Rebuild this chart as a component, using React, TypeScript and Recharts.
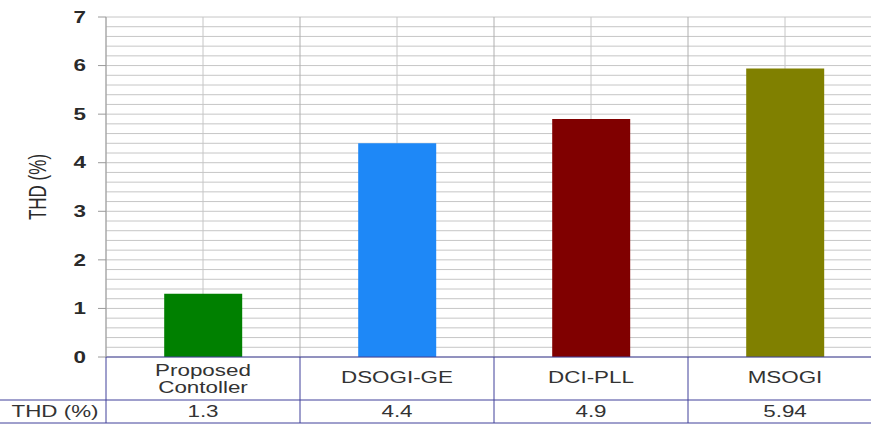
import { BarChart, Bar, XAxis, YAxis, CartesianGrid, Cell } from 'recharts';

const categories = ['Proposed\nContoller', 'DSOGI-GE', 'DCI-PLL', 'MSOGI'];
const thdValues = [1.3, 4.4, 4.9, 5.94];
const thdLabels = ['1.3', '4.4', '4.9', '5.94'];
const barColors = ['#008000', '#1e88f7', '#800000', '#808000'];
const yTicks = [0, 1, 2, 3, 4, 5, 6, 7];
// minor gridlines every 0.2
const minorTicks = Array.from({ length: 36 }, (_, i) => Math.round(i * 2) / 10);

const data = categories.map((name, i) => ({ name, thd: thdValues[i], label: thdLabels[i] }));

const SX = 1.4; // the source image is stretched horizontally
const NAVY = '#41419a';
const FONT = 'Arial, "Liberation Sans", sans-serif';

function YTick(props: any) {
  const { x, y, payload } = props;
  return (
    <text
      transform={`translate(${x},${y}) scale(${SX},1)`}
      textAnchor="end"
      dy="0.36em"
      fontSize={16}
      fontWeight="bold"
      fontFamily={FONT}
      fill="#2a2a2a"
    >
      {payload.value}
    </text>
  );
}

function YLabel(props: any) {
  const vb = props.viewBox;
  const cx = vb.x + 37;
  const cy = vb.y + vb.height / 2;
  return (
    <text
      transform={`translate(${cx},${cy}) scale(${SX},1) rotate(-90)`}
      textAnchor="middle"
      dy="0.36em"
      fontSize={17}
      fontFamily={FONT}
      fill="#2a2a2a"
    >
      THD (%)
    </text>
  );
}

// each x tick draws its column of the data table under the plot
function TableCell(props: any) {
  const { x, y, payload, width, visibleTicksCount } = props;
  const idx = payload.index ?? 0;
  const cw = width / visibleTicksCount;
  const left = x - cw / 2;
  const right = x + cw / 2;
  const row1 = 43;
  const row2 = 66;
  const lines = String(payload.value).split('\n');
  const txt = (tx: number, ty: number, s: string, key: string) => (
    <text
      key={key}
      transform={`translate(${tx},${ty}) scale(${SX},1)`}
      textAnchor="middle"
      fontSize={16}
      fontFamily={FONT}
      fill="#333"
    >
      {s}
    </text>
  );
  return (
    <g>
      {idx === 0 && (
        <>
          <line x1={left} y1={y} x2={left} y2={y + row2} stroke={NAVY} />
          <line x1={0} y1={y + row1} x2={left} y2={y + row1} stroke={NAVY} />
          <line x1={0} y1={y + row2} x2={left} y2={y + row2} stroke={NAVY} />
          {txt(left / 2 + 2, y + 60, 'THD (%)', 'hdr')}
        </>
      )}
      <line x1={right} y1={y} x2={right} y2={y + row2} stroke={NAVY} />
      <line x1={left} y1={y + row1} x2={right} y2={y + row1} stroke={NAVY} />
      <line x1={left} y1={y + row2} x2={right} y2={y + row2} stroke={NAVY} />
      {lines.length > 1
        ? lines.map((s, i) => txt(x, y + 19 + i * 17, s, 'l' + i))
        : txt(x, y + 26, lines[0], 'l0')}
      {txt(x, y + 60, data[idx] ? data[idx].label : '', 'v')}
    </g>
  );
}

export default function App() {
  return (
    <div
      style={{
        position: 'fixed',
        left: 0,
        top: 0,
        width: 871,
        height: 424,
        overflow: 'hidden',
        background: '#fff',
      }}
    >
      <BarChart
        width={882}
        height={424}
        data={data}
        margin={{ top: 17, right: 0, left: 0, bottom: 0 }}
        barCategoryGap="30%"
      >
        <CartesianGrid horizontalValues={minorTicks} stroke="#c6c6c6" />
        <CartesianGrid
          horizontal={false}
          stroke="#b0b0b0"
          verticalCoordinatesGenerator={({ offset }: any) =>
            [1, 2, 3].map((i) => offset.left + (i * offset.width) / categories.length)
          }
        />
        <XAxis
          dataKey="name"
          height={67}
          interval={0}
          tickLine={false}
          tickSize={0}
          tickMargin={0}
          axisLine={{ stroke: NAVY }}
          tick={<TableCell />}
        />
        <YAxis
          width={106}
          domain={[0, 7]}
          ticks={yTicks}
          interval={0}
          tickSize={8}
          tickMargin={12}
          stroke="#9a9a9a"
          tick={<YTick />}
          label={(p: any) => <YLabel {...p} />}
        />
        <Bar dataKey="thd" isAnimationActive={false}>
          {data.map((d, i) => (
            <Cell key={d.name} fill={barColors[i]} />
          ))}
        </Bar>
      </BarChart>
    </div>
  );
}
